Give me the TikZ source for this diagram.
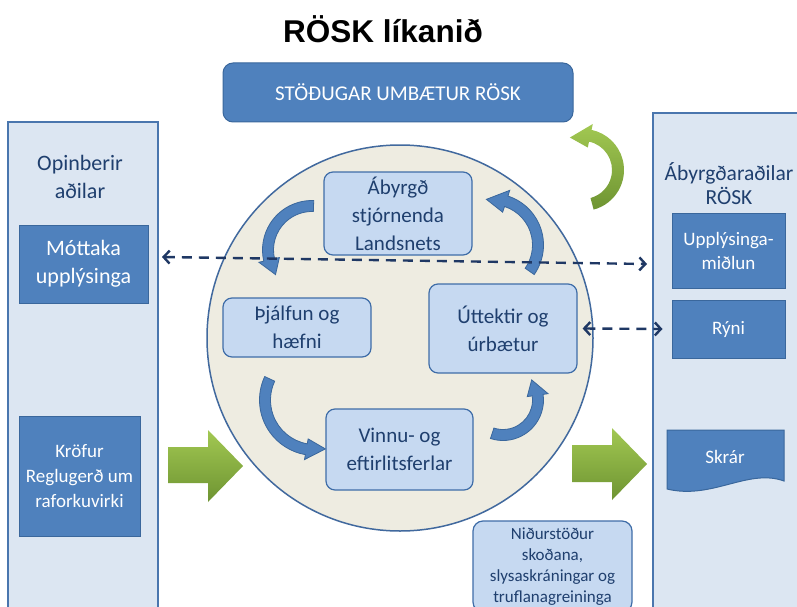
\documentclass[tikz,border=0pt]{standalone}
\usepackage{fontspec}
\setmainfont{Carlito}
\newfontfamily\titlefont{Liberation Sans}
\usetikzlibrary{arrows.meta}
\definecolor{boxblue}{HTML}{4F81BD}
\definecolor{boxborder}{HTML}{3A679C}
\definecolor{panelfill}{HTML}{DCE6F2}
\definecolor{panelborder}{HTML}{4A76AE}
\definecolor{lightblue}{HTML}{C6D9F1}
\definecolor{lbborder}{HTML}{3F6DA8}
\definecolor{navy}{HTML}{1F3864}
\definecolor{textblue}{HTML}{1F3F6E}
\definecolor{circfill}{HTML}{EEECE1}
\definecolor{circborder}{HTML}{41699E}
\definecolor{greenA}{HTML}{A2C852}
\definecolor{greenB}{HTML}{6E9432}
\definecolor{arrowblue}{HTML}{4F81BD}
\definecolor{arrowborder}{HTML}{3A679C}
\newcommand\fs[2]{\fontsize{#1}{#2}\selectfont}
% #1 style, #2 cx, #3 cy, #4 r, #5 start angle, #6 head-base angle, #7 tip angle, #8 half width, #9 head extra
\newcommand\bentarrow[9]{%
  \path[#1] ([shift={(#5:{#4+#8})}]#2,#3) arc[start angle=#5, end angle=#6, radius={#4+#8}]
    -- ([shift={(#6:{#4+#8+#9})}]#2,#3) -- ([shift={(#7:#4)}]#2,#3)
    -- ([shift={(#6:{#4-#8-#9})}]#2,#3) -- ([shift={(#6:{#4-#8})}]#2,#3)
    arc[start angle=#6, end angle=#5, radius={#4-#8}] -- cycle;}
\tikzset{
  darkbox/.style={draw=boxborder, fill=boxblue, text=white, line width=1pt, inner sep=0, align=center},
  lightbox/.style={draw=lbborder, fill=lightblue, text=textblue, rounded corners=9pt, line width=1.2pt, align=center, inner sep=0, font=\fs{21}{28}},
  panel/.style={draw=panelborder, fill=panelfill, line width=1.2pt, inner sep=0},
  paneltext/.style={text=textblue, align=center, inner sep=0},
  dasharrow/.style={draw=navy, line width=2.4pt, dash pattern=on 10pt off 7pt,
    {Straight Barb[length=6pt,width=13pt]}-{Straight Barb[length=6pt,width=13pt]}},
  bluearrow/.style={fill=arrowblue, draw=arrowborder, line width=0.8pt},
  greenarrow/.style={top color=greenA, bottom color=greenB, draw=none},
}
\begin{document}
\begin{tikzpicture}[x=1pt,y=-1pt]
\useasboundingbox (0,0) rectangle (797,607);
\clip (0,0) rectangle (797,607);
\fill[white] (0,0) rectangle (797,607);

% title
\node[font=\titlefont\bfseries\fs{31.5}{36}] (title) at (383,29) {RÖSK líkanið};

% side panels
\node[panel, minimum width=150pt, minimum height=500pt] (lpanel) at (83,372) {};
\node[paneltext, font=\fs{22}{28}] (ltitle) at (80,177) {Opinberir\\aðilar};
\node[darkbox, minimum width=129pt, minimum height=78pt, font=\fs{22}{28}] (mottaka) at (83.5,264) {Móttaka\\upplýsinga};
\node[darkbox, minimum width=121pt, minimum height=120pt, font=\fs{19}{25}] (krofur) at (79.5,476) {Kröfur\\Reglugerð um\\raforkuvirki};

\node[panel, minimum width=157pt, minimum height=509pt] (rpanel) at (731.5,367.5) {};
\node[paneltext, font=\fs{21.5}{24}] (rtitle) at (729,184) {Ábyrgðaraðilar\\RÖSK};
\node[darkbox, minimum width=113pt, minimum height=75pt, font=\fs{19}{24}] (uppl) at (728.5,250.5) {Upplýsinga-\\miðlun};
\node[darkbox, minimum width=113pt, minimum height=58pt, font=\fs{19}{24}] (ryni) at (728.5,329) {Rýni};
\path[draw=boxborder, fill=boxblue, line width=1pt] (667,430) -- (784,430) -- (784,481) .. controls (748,468) and (712,500) .. (667,489) -- cycle;
\node[text=white, font=\fs{19}{24}] (skrar) at (725,457) {Skrár};

% top box
\node[darkbox, rounded corners=10pt, minimum width=350pt, minimum height=59pt, font=\fs{21}{24}] (top) at (398,92.5) {\raisebox{-2pt}{STÖÐUGAR UMBÆTUR RÖSK}};

% circle
\node[circle, draw=circborder, fill=circfill, line width=1.5pt, minimum size=386pt, inner sep=0] (circ) at (400,338) {};

% inner boxes
\node[lightbox, minimum width=148pt, minimum height=83pt] (abyrgd) at (398,213.5) {Ábyrgð\\stjórnenda\\Landsnets};
\node[lightbox, minimum width=148pt, minimum height=59pt] (thjalfun) at (297,327.5) {Þjálfun og\\hæfni};
\node[lightbox, minimum width=148pt, minimum height=89pt] (utt) at (503,328.5) {Úttektir og\\úrbætur};
\node[lightbox, minimum width=147pt, minimum height=81pt] (vinnu) at (399.5,449.5) {Vinnu- og\\eftirlitsferlar};

% blue cycle arrows
\bentarrow{bluearrow}{312}{250}{44}{-88}{-193}{-214}{5.5}{5}
\bentarrow{bluearrow}{492}{245}{46}{35}{-72}{-97}{5.5}{6}
\bentarrow{bluearrow}{315}{400}{50}{205}{100}{78}{5.5}{5}
\bentarrow{bluearrow}{503}{400}{35}{108}{-8}{-35}{5.5}{5}

% green arrows
\bentarrow{greenarrow}{583}{170}{35}{75}{-78}{-112}{6}{6}
\path[greenarrow] (168,447) -- (208,447) -- (208,430) -- (243,466) -- (208,502) -- (208,483) -- (168,483) -- cycle;
\path[greenarrow] (572,445) -- (612,445) -- (612,428) -- (647,464) -- (612,500) -- (612,482) -- (572,482) -- cycle;

% results box
\node[lightbox, rounded corners=10pt, minimum width=159pt, minimum height=91pt, font=\fs{17}{21}, text=textblue] (nid) at (552.5,566.5) {Niðurstöður\\skoðana,\\slysaskráningar og\\truflanagreininga};

% dashed arrows
\coordinate (da) at (162,257);
\coordinate (db) at (647,264);
\draw[dasharrow] (da) -- (db);
\draw[dasharrow] ([xshift=5pt]utt.east) -- ([xshift=-9pt]ryni.west);
\end{tikzpicture}
\end{document}
